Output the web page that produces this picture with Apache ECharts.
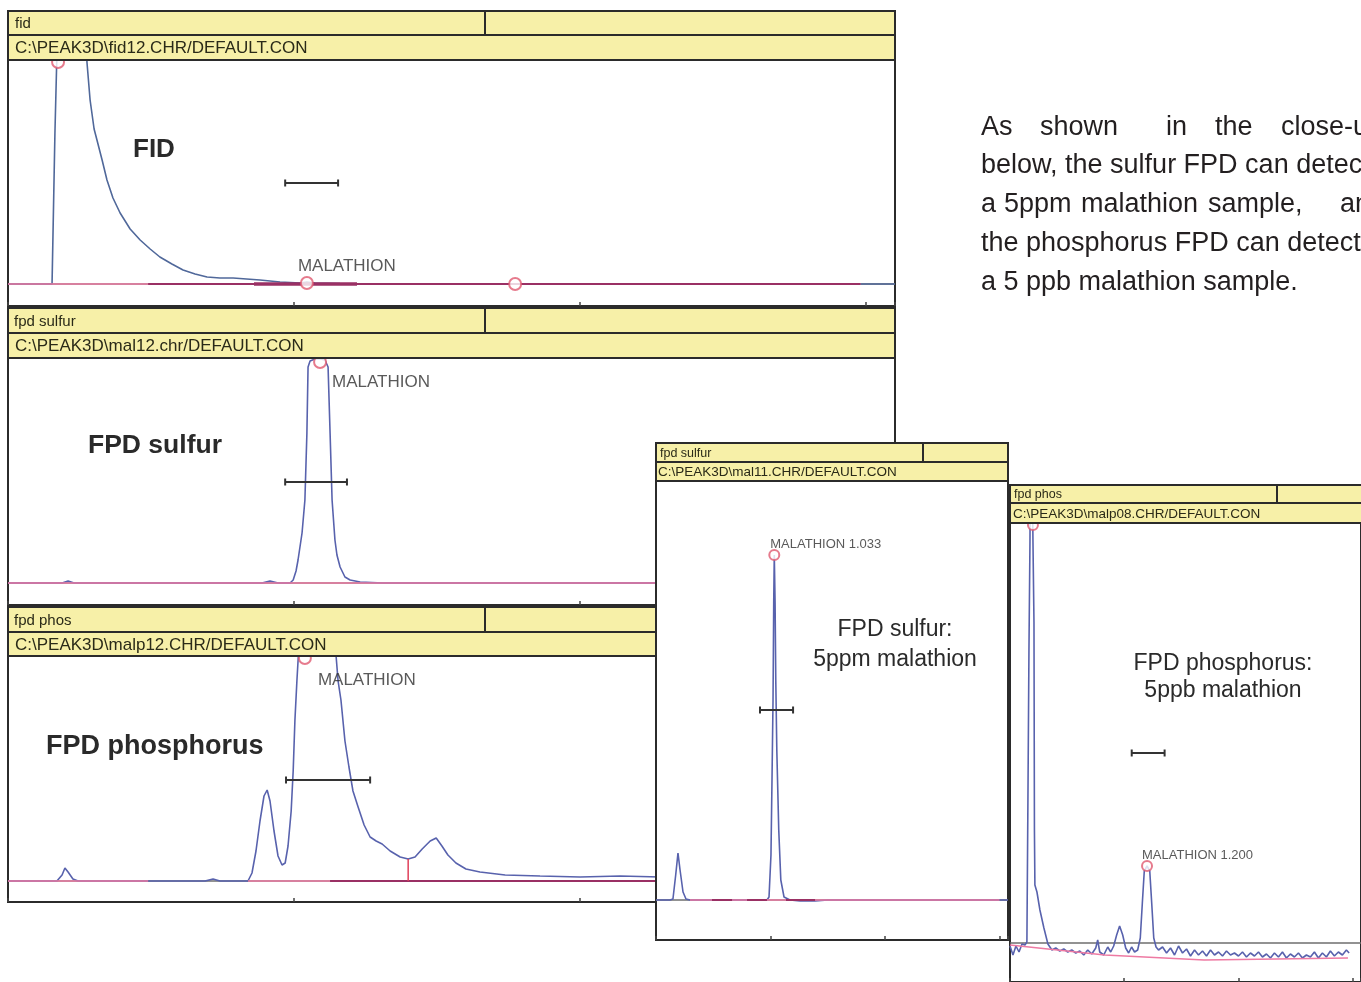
<!DOCTYPE html>
<html><head><meta charset="utf-8">
<script src="https://cdn.jsdelivr.net/npm/echarts@6/dist/echarts.min.js"></script>
<style>html,body{margin:0;padding:0;background:#fff}#c{width:1361px;height:982px}</style>
</head><body><div id="c"></div>
<script>
// ================= DATA (time in minutes, signal in detector counts) =================
const panelTitles = ['fid', 'fpd sulfur', 'fpd phos', 'fpd sulfur', 'fpd phos'];
const panelPaths = [
  'C:\\PEAK3D\\fid12.CHR/DEFAULT.CON',
  'C:\\PEAK3D\\mal12.chr/DEFAULT.CON',
  'C:\\PEAK3D\\malp12.CHR/DEFAULT.CON',
  'C:\\PEAK3D\\mal11.CHR/DEFAULT.CON',
  'C:\\PEAK3D\\malp08.CHR/DEFAULT.CON'
];
const panelNames = [['FID'], ['FPD sulfur'], ['FPD phosphorus'], ['FPD sulfur:', '5ppm malathion'], ['FPD phosphorus:', '5ppb malathion']];
const paragraphLines = [
  ['As', 'shown', 'in', 'the', 'close-up'],
  ['below, the sulfur FPD can detect'],
  ['a', '5ppm', 'malathion', 'sample,', 'and'],
  ['the phosphorus FPD can detect'],
  ['a 5 ppb malathion sample.']
];

const xRanges = [3.101, 3.101, 3.101, 3.074, 3.074];
const yRanges = [[-22, 224], [-22, 225], [-21, 225], [-40, 419], [-39, 420]];

const fidTrace = [[0,0],[0.154,0],[0.164,150],[0.171,230],[0.182,600],[0.266,600],[0.276,222],[0.287,184],[0.301,155],[0.311,144],[0.329,124],[0.346,104],[0.367,86],[0.392,71],[0.427,55],[0.462,44],[0.497,35],[0.531,27],[0.573,20],[0.612,14],[0.654,10],[0.696,7],[0.741,6],[0.787,6],[0.881,4],[0.951,2],[1.021,1],[1.045,2],[1.073,1],[1.161,0.5],[1.371,0],[3.101,0]];
const sulfurTrace = [[0,0],[0.189,0],[0.210,2],[0.231,0],[0.888,0],[0.916,2],[0.944,0],[0.986,0],[0.997,3],[1.007,12],[1.014,23],[1.028,50],[1.038,83],[1.045,150],[1.049,216],[1.056,222],[1.073,224],[1.091,224],[1.108,223],[1.119,216],[1.126,150],[1.133,83],[1.143,43],[1.150,28],[1.161,16],[1.178,6],[1.196,3],[1.231,1],[1.311,0],[3.101,0]];
const phosTrace = [[0,0],[0.171,0],[0.189,6],[0.199,13],[0.210,9],[0.227,2],[0.245,0],[0.689,0],[0.717,2],[0.741,0],[0.839,0],[0.853,8],[0.867,30],[0.881,60],[0.895,85],[0.906,91],[0.916,80],[0.930,50],[0.944,25],[0.958,16],[0.969,18],[0.979,35],[0.990,70],[0.997,110],[1.003,160],[1.010,200],[1.017,235],[1.024,400],[1.136,400],[1.147,225],[1.154,200],[1.164,181],[1.178,140],[1.192,114],[1.206,90],[1.224,74],[1.245,56],[1.266,44],[1.287,40],[1.308,37],[1.336,30],[1.371,24],[1.399,22],[1.423,24],[1.448,32],[1.476,40],[1.497,43],[1.517,35],[1.538,26],[1.566,18],[1.601,12],[1.650,9],[1.738,6],[1.860,5],[2.000,4],[2.140,5],[2.280,4],[3.101,2]];
const sulfur5ppmTrace = [[0,0],[0.122,0],[0.148,1],[0.172,25],[0.192,47],[0.210,30],[0.236,8],[0.262,1],[0.297,0],[0.969,0],[0.987,3],[1.004,45],[1.013,120],[1.022,200],[1.028,297],[1.033,345],[1.040,297],[1.046,220],[1.055,150],[1.072,70],[1.090,20],[1.118,3],[1.170,0],[1.258,-1],[1.389,-1],[1.500,0],[3.074,0]];
const phos5ppbTrace = [[0,-3],[0.026,-12],[0.052,-3],[0.079,-9],[0.105,-1],[0.131,-2],[0.148,1],[0.157,143],[0.166,293],[0.175,403],[0.183,600],[0.192,600],[0.201,403],[0.210,321],[0.214,113],[0.218,58],[0.236,51],[0.262,33],[0.297,15],[0.332,-1],[0.367,-7],
  [0.401,-5],[0.436,-8],[0.471,-6],[0.506,-9],[0.541,-7],[0.576,-10],[0.611,-8],[0.646,-12],[0.681,-7],[0.716,-11],[0.751,-5],[0.768,3],[0.786,-9],[0.821,-12],[0.856,-4],[0.882,-9],[0.908,-3],[0.934,8],[0.960,17],[0.987,8],[1.013,-5],[1.039,-10],[1.065,-4],[1.091,-9],[1.118,-7],[1.141,5],[1.159,40],[1.176,72],[1.200,77],[1.224,72],[1.241,40],[1.259,5],[1.279,-4],[1.301,-7],
  [1.336,-4],[1.371,-10],[1.406,-5],[1.441,-12],[1.476,-3],[1.511,-10],[1.546,-6],[1.581,-13],[1.616,-7],[1.651,-12],[1.686,-8],[1.721,-13],[1.756,-7],[1.791,-12],[1.826,-9],[1.861,-13],[1.896,-8],[1.931,-12],[1.966,-10],[2.001,-13],[2.036,-9],[2.071,-14],[2.106,-10],[2.141,-13],[2.176,-9],[2.211,-14],[2.246,-11],[2.281,-15],[2.316,-10],[2.351,-14],[2.386,-9],[2.421,-15],[2.456,-11],[2.491,-14],[2.526,-10],[2.561,-15],[2.596,-12],[2.631,-14],[2.666,-9],[2.701,-15],[2.736,-10],[2.771,-14],[2.806,-8],[2.841,-13],[2.876,-9],[2.911,-12],[2.946,-7],[2.970,-10]];
const traces = [fidTrace, sulfurTrace, phosTrace, sulfur5ppmTrace, phos5ppbTrace];

// integration baselines (polylines)
const baselineLight = [
  [[[0,0],[2.98,0]]],
  [[[0,0],[3.101,0]]],
  [[[0,0],[0.49,0]], [[0.839,0],[1.126,0]]],
  [[[0.297,0],[3.0,0]]],
  [[[0,-2],[0.83,-12],[1.70,-17],[2.96,-15]]]
];
const baselineMarked = [
  [[0.49, 2.98]],
  [],
  [[1.126, 3.101]],
  [[0.489, 0.664], [0.795, 0.969], [1.135, 1.389]],
  []
];
const baselineHeavy = [[[0.86, 1.22]], [], [], [], []];
const dropLines = [[], [], [[1.399, 0, 22]], [], []];

// detected peaks (time, height, name)
const peaks = [
  [{t:0.175, h:222, name:''}, {t:1.045, h:1, name:'MALATHION'}, {t:1.773, h:0, name:''}],
  [{t:1.091, h:221, name:'MALATHION'}],
  [{t:1.038, h:223, name:'MALATHION'}],
  [{t:1.033, h:345, name:'MALATHION 1.033'}],
  [{t:0.201, h:418, name:''}, {t:1.200, h:77, name:'MALATHION 1.200'}]
];
// peak width markers [start, end, level]
const widthBars = [[0.969, 1.154, 101], [0.969, 1.185, 101], [0.972, 1.266, 101], [0.908, 1.197, 190], [1.066, 1.354, 190]];

// ================= LAYOUT / STYLE =================
const FONT = "'Liberation Sans', Arial, Helvetica, sans-serif";
const layout = [
  {left:8,    top:11,  width:887, h1:24, h2:25, plotH:246, div:477, z:0,  titleSize:15, pathSize:17, tx:7, px:7, labelSize:17, labelOffset:[-9,-17], circle:12},
  {left:8,    top:308, width:887, h1:25, h2:25, plotH:247, div:477, z:0,  titleSize:15, pathSize:17, tx:6, px:7, labelSize:17, labelOffset:[12,20], circle:12},
  {left:8,    top:607, width:887, h1:25, h2:24, plotH:246, div:477, z:0,  titleSize:15, pathSize:17, tx:6, px:7, labelSize:17, labelOffset:[13,22], circle:12},
  {left:656,  top:443, width:352, h1:19, h2:19, plotH:459, div:267, z:10, titleSize:12.5, pathSize:13.5, tx:4, px:2, labelSize:13, labelOffset:[-4,-11], circle:10},
  {left:1010, top:485, width:352, h1:18, h2:20, plotH:459, div:267, z:20, titleSize:12.5, pathSize:13.5, tx:4, px:3, labelSize:13, labelOffset:[-5,-11], circle:10}
];
const nameLayout = [
  {x:133, y:150, size:26, bold:true, align:'left', gap:0},
  {x:88,  y:446, size:26.5, bold:true, align:'left', gap:0},
  {x:46,  y:747, size:27, bold:true, align:'left', gap:0},
  {x:895, y:630, size:23, bold:false, align:'center', gap:30},
  {x:1223, y:664, size:23, bold:false, align:'center', gap:27}
];
const paraY = [128, 166, 205, 244, 283];
const paraX = [
  [981, 1040, 1166, 1215, 1281],
  [981],
  [981, 1004, 1081, 1208, 1340],
  [981],
  [981]
];

const C_TRACE = '#5862ad', C_FIDTRACE = '#50689a', C_PINK = '#ee7aa3', C_DARK = '#9a3064', C_ZERO = '#6e6e6e';
const C_HEAD = '#f7f0a8', C_LINE = '#2b2b2b';

const grids = [], xAxes = [], yAxes = [], series = [], graphics = [];

panelTitles.forEach((title, i) => {
  const L = layout[i], z = L.z;
  const plotTop = L.top + L.h1 + L.h2;
  const xMax = xRanges[i];
  grids.push({left:L.left, top:plotTop, width:L.width, height:L.plotH, show:true,
    backgroundColor:'#ffffff', borderColor:C_LINE, borderWidth:2, z:z});
  xAxes.push({gridIndex:i, type:'value', min:0, max:xMax, interval:1, z:z+1,
    axisLine:{show:false, onZero:false}, axisTick:{show:true, inside:true, length:4, lineStyle:{color:'#444', width:1.5}},
    axisLabel:{show:false}, splitLine:{show:false}});
  yAxes.push({gridIndex:i, type:'value', min:yRanges[i][0], max:yRanges[i][1], show:false, splitLine:{show:false}});

  const common = {type:'line', xAxisIndex:i, yAxisIndex:i, symbol:'none', silent:true, animation:false};
  series.push({...common, data:[[0,0],[xMax,0]], lineStyle:{color:C_ZERO, width:1.5}, z:z+1});
  series.push({...common, data:traces[i], lineStyle:{color: i===0 ? C_FIDTRACE : C_TRACE, width:1.6}, z:z+2});
  baselineLight[i].forEach(seg => series.push({...common, data:seg, lineStyle:{color:C_PINK, width:1.6}, z:z+3}));
  baselineMarked[i].forEach(s => series.push({...common, data:[[s[0],0],[s[1],0]], lineStyle:{color:C_DARK, width:2}, z:z+3}));
  baselineHeavy[i].forEach(s => series.push({...common, data:[[s[0],0],[s[1],0]], lineStyle:{color:C_DARK, width:3.5}, z:z+3}));
  dropLines[i].forEach(d => series.push({...common, data:[[d[0],d[1]],[d[0],d[2]]], lineStyle:{color:'#e0405a', width:1.5}, z:z+3}));
  const b = widthBars[i];
  series.push({...common, data:[[b[0],b[2]],[b[1],b[2]]], symbol:'rect', symbolSize:[2,7], showSymbol:true,
    itemStyle:{color:'#333'}, lineStyle:{color:'#333', width:2}, z:z+4});
  series.push({type:'scatter', xAxisIndex:i, yAxisIndex:i, silent:true, animation:false,
    symbol:'emptyCircle', symbolSize:L.circle, itemStyle:{color:'#e05a70', borderWidth:1.5}, z:z+5,
    data: peaks[i].map(pk => ({name:pk.name, value:[pk.t, pk.h],
      label:{show: pk.name !== '', formatter:'{b}', position:'inside', align:'left', verticalAlign:'middle',
        offset:L.labelOffset, fontSize:L.labelSize, fontFamily:FONT, color:'#303030', textBorderWidth:0}}))});

  const hz = z + 6;
  graphics.push({type:'rect', z:hz, shape:{x:L.left, y:L.top, width:L.width, height:L.h1}, style:{fill:C_HEAD, stroke:C_LINE, lineWidth:2}});
  graphics.push({type:'rect', z:hz, shape:{x:L.left, y:L.top+L.h1, width:L.width, height:L.h2}, style:{fill:C_HEAD, stroke:C_LINE, lineWidth:2}});
  graphics.push({type:'line', z:hz, shape:{x1:L.left+L.div, y1:L.top, x2:L.left+L.div, y2:L.top+L.h1}, style:{stroke:C_LINE, lineWidth:2}});
  graphics.push({type:'text', z:hz+1, x:L.left+L.tx, y:L.top+L.h1/2+1, style:{text:title, font:`${L.titleSize}px ${FONT}`, fill:'#2a2a18', verticalAlign:'middle'}});
  graphics.push({type:'text', z:hz+1, x:L.left+L.px, y:L.top+L.h1+L.h2/2+1, style:{text:panelPaths[i], font:`${L.pathSize}px ${FONT}`, fill:'#2a2a18', verticalAlign:'middle'}});

  const N = nameLayout[i];
  panelNames[i].forEach((line, k) => {
    graphics.push({type:'text', z:hz+1, x:N.x, y:N.y + k*N.gap, style:{text:line,
      font:`${N.bold ? 'bold ' : ''}${N.size}px ${FONT}`, fill:'#2a2a2a', align:N.align, verticalAlign:'middle'}});
  });
});

paragraphLines.forEach((words, li) => {
  words.forEach((w, wi) => {
    graphics.push({type:'text', z:40, x:paraX[li][wi], y:paraY[li], style:{text:w, font:`27px ${FONT}`, fill:'#231f20', verticalAlign:'middle'}});
  });
});

const chart = echarts.init(document.getElementById('c'), null, {renderer:'canvas'});
chart.setOption({
  animation:false,
  backgroundColor:'#ffffff',
  grid:grids, xAxis:xAxes, yAxis:yAxes, series:series, graphic:graphics
});
</script></body></html>
